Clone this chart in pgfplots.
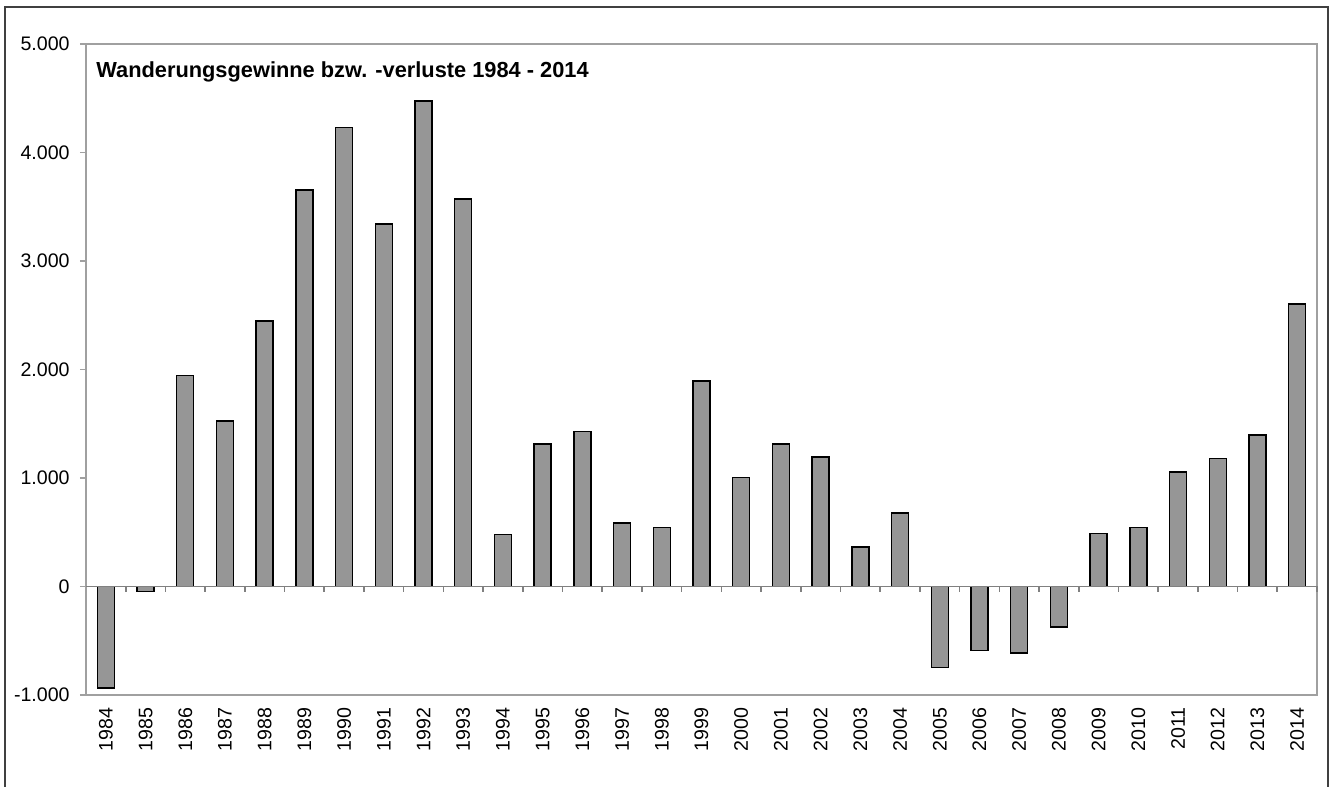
\documentclass[border=0pt]{standalone}
\usepackage{fontspec}
\setmainfont{Liberation Sans}
\usepackage{pgfplots}
\usepackage{pgfplotstable}
\pgfplotsset{compat=1.18}
\definecolor{barfill}{HTML}{969696}
\definecolor{frame}{HTML}{A0A0A0}
\definecolor{zeroline}{HTML}{808080}

\pgfplotstableread{
x year value
0 1984 -935
1 1985 -46
2 1986 1942
3 1987 1527
4 1988 2447
5 1989 3656
6 1990 4228
7 1991 3341
8 1992 4476
9 1993 3573
10 1994 479
11 1995 1315
12 1996 1426
13 1997 587
14 1998 541
15 1999 1895
16 2000 1002
17 2001 1315
18 2002 1195
19 2003 365
20 2004 678
21 2005 -749
22 2006 -592
23 2007 -614
24 2008 -374
25 2009 486
26 2010 541
27 2011 1057
28 2012 1177
29 2013 1398
30 2014 2605
}\migration

\begin{document}
\begin{tikzpicture}
\begin{pgfinterruptboundingbox}
\begin{axis}[
    scale only axis,
    width=615.5pt, height=325.5pt,
    xmin=-0.5, xmax=30.5,
    ymin=-1000, ymax=5000,
    axis line style={frame, line width=0.8pt},
    ytick={-1000,0,1000,2000,3000,4000,5000},
    yticklabels={-1.000,0,1.000,2.000,3.000,4.000,5.000},
    ytick pos=left,
    ytick align=outside,
    y tick style={frame, line width=0.8pt},
    major tick length=3pt,
    xtick=data,
    xticklabels from table={\migration}{year},
    x tick style={draw=none},
    xticklabel style={rotate=90, anchor=east, inner sep=0pt},
    xticklabel shift=6pt,
    yticklabel style={inner sep=0pt, xshift=-5pt},
    tick label style={font=\fontsize{9.8}{11}\selectfont},
    clip=false,
]
\addplot[ybar, bar width=8.5pt, fill=barfill, draw=black, line width=0.7pt]
    table[x=x, y=value] {\migration};
\draw[zeroline, line width=0.8pt] (axis cs:-0.5,0) -- (axis cs:30.5,0);
\pgfplotsinvokeforeach{0.5,1.5,...,30.5}{
    \draw[zeroline, line width=0.8pt] (axis cs:#1,0) -- ([yshift=-3pt]axis cs:#1,0);
}
\node[anchor=base west, inner sep=0pt, font=\bfseries\fontsize{10.9}{12}\selectfont]
    at ([xshift=5pt, yshift=-17pt]rel axis cs:0,1) {Wanderungsgewinne bzw. -verluste 1984 - 2014};
\coordinate (bl) at (rel axis cs:0,0);
\end{axis}
\end{pgfinterruptboundingbox}
\useasboundingbox ([shift={(-43pt,-46pt)}]bl) rectangle ([shift={(624pt,347.5pt)}]bl);
\draw[black!75, line width=1pt]
    ([shift={(-40.5pt,-48pt)}]bl) -- ([shift={(-40.5pt,344pt)}]bl)
    -- ([shift={(621pt,344pt)}]bl) -- ([shift={(621pt,-48pt)}]bl);
\end{tikzpicture}
\end{document}
